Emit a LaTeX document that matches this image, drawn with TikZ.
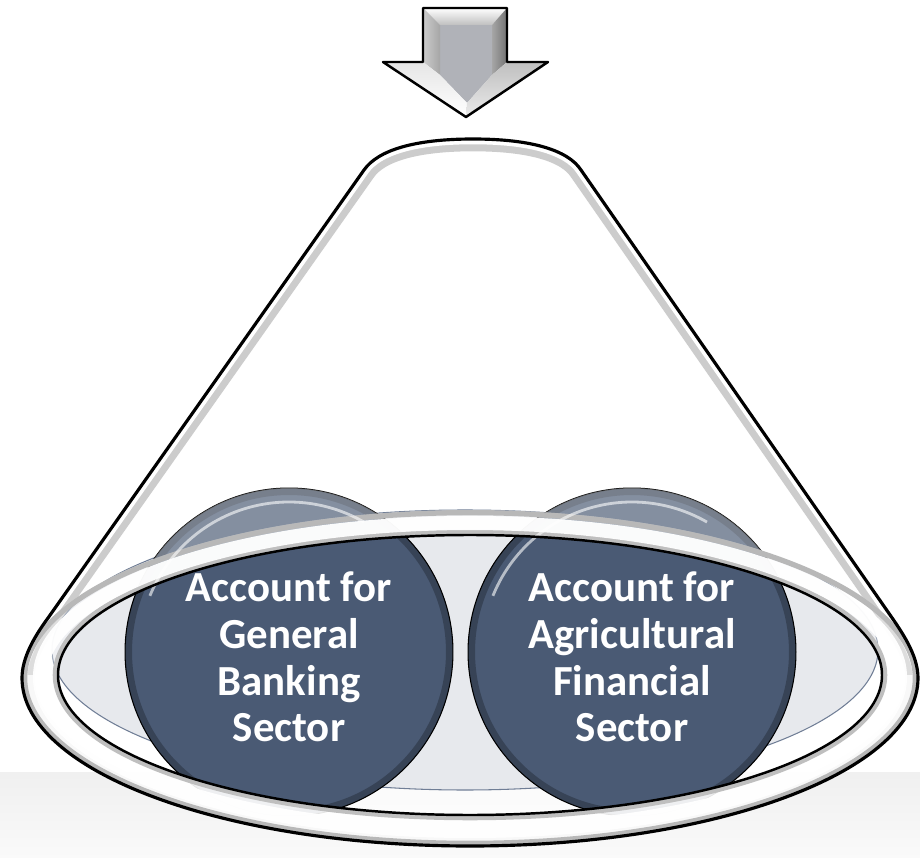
\documentclass[tikz,border=0pt]{standalone}
\usepackage{fontspec}
\newfontfamily\calfont{Carlito}
\usetikzlibrary{positioning}

\definecolor{discblue}{RGB}{74,90,116}
\definecolor{floorgray}{RGB}{231,233,237}
\definecolor{floorline}{RGB}{112,126,150}
\definecolor{arrowface}{RGB}{176,178,184}

% kegle: top, sider og forreste halvdel af bunden
\def\conepath{(364,170) .. controls (378,150) and (415,139) .. (473,139)
  .. controls (531,139) and (568,150) .. (581,170) -- (888,612)
  .. controls (902,632) and (918,655) .. (918,678)
  arc[start angle=0, end angle=180, x radius=448, y radius=168]
  .. controls (22,658) and (34,637) .. (48,618) -- cycle}
\def\outerrim{(470,678) ellipse[x radius=448, y radius=168]}
\def\innerrim{(470,675) ellipse[x radius=412, y radius=140]}

\begin{document}
\begin{tikzpicture}[x=0.02cm, y=-0.02cm,
    disc/.style={circle, draw=black, line width=0.6pt, fill=discblue, minimum size=6.56cm, inner sep=0pt},
    sectortext/.style={text=white, align=center, font=\calfont\bfseries\fontsize{24.4}{26.6}\selectfont},
    outline/.style={draw=black, line width=1.4pt, line join=round},
    gloss/.style={white, line width=1.6pt, opacity=0.6}
]
\useasboundingbox (0,0) rectangle (920,858);

% baggrundsbånd
\shade[top color=black!6, bottom color=black!2] (0,772) rectangle (920,858);

% keglens glas
\fill[white, opacity=0.75] \conepath;
\begin{scope}
  \clip \conepath;
  \draw[black!20, line width=14] \conepath;
  \draw[white, line width=6] \conepath;
\end{scope}

% bunden
\fill[floorgray] (465,650) ellipse[x radius=413, y radius=140];
\draw[floorline, line width=0.6pt] (465,650) ellipse[x radius=413, y radius=140];

% knuder
\node[disc] (bank) at (289,652) {};
\node[disc] (agri) at (632,652) {};

% skygge i kanten af skiverne
\begin{scope}
  \clip (bank.center) circle[radius=164] (agri.center) circle[radius=164];
  \draw[black, opacity=0.25, line width=8] (bank.center) circle[radius=164];
  \draw[black, opacity=0.25, line width=8] (agri.center) circle[radius=164];
  \fill[white, opacity=0.32, even odd rule] \conepath \innerrim;
\end{scope}

% ringen rundt om bunden
\begin{scope}[even odd rule]
  \clip \outerrim \innerrim;
  \fill[white, opacity=0.35] (0,450) rectangle (920,675);
  \fill[white, opacity=0.88] (0,675) rectangle (920,858);
  \draw[black!28, line width=6] \outerrim;
  \draw[black!25, line width=6] \innerrim;
  \draw[white, line width=8, opacity=0.95] (470,677) ellipse[x radius=430, y radius=154];
\end{scope}

% glans
\draw[gloss] (bank.center) ++(-158:150) arc[start angle=-158, end angle=-60, radius=150];
\draw[gloss] (agri.center) ++(-158:150) arc[start angle=-158, end angle=-60, radius=150];

% konturer
\draw[outline] \innerrim;
\draw[outline, line width=1.8pt] \conepath;

% tekst
\node[sectortext] (bankText) at ([yshift=-0.1cm]bank.center) {Account for\\General\\Banking\\Sector};
\node[sectortext] (agriText) at ([yshift=-0.1cm]agri.center) {Account for\\Agricultural\\Financial\\Sector};

% pil
\fill[arrowface] (440,25) -- (492,25) -- (492,75) -- (467,103) -- (440,75) -- cycle;
\shade[top color=white, bottom color=black!25] (423,8) -- (507,8) -- (492,25) -- (440,25) -- cycle;
\shade[left color=black!20, right color=black!35] (423,8) -- (440,25) -- (440,75) -- (423,62) -- cycle;
\shade[left color=black!35, right color=black!55] (507,8) -- (507,62) -- (492,75) -- (492,25) -- cycle;
\shade[top color=black!10, bottom color=white] (383,62) -- (423,62) -- (440,75) -- (467,103) -- (466,117) -- cycle;
\shade[top color=black!25, bottom color=black!8] (548,62) -- (507,62) -- (492,75) -- (467,103) -- (466,117) -- cycle;
\draw[outline] (423,8) -- (507,8) -- (507,62) -- (548,62) -- (466,117) -- (383,62) -- (423,62) -- cycle;

\end{tikzpicture}
\end{document}
